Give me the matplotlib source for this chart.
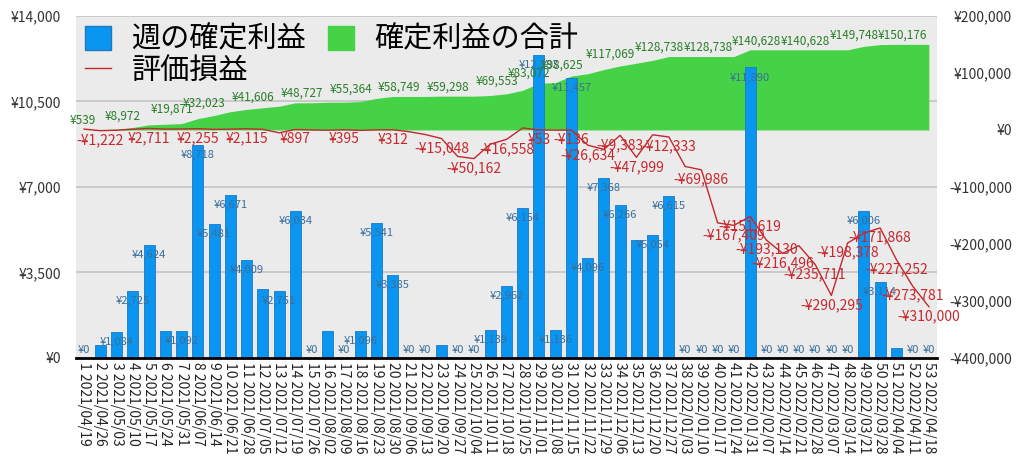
import matplotlib
matplotlib.use('Agg')
import matplotlib.pyplot as plt
from matplotlib.patches import Patch
from matplotlib.lines import Line2D

plt.rcParams['font.family'] = ['Noto Sans CJK JP', 'DejaVu Sans']

# 週ラベル
dates = ['2021/04/19', '2021/04/26', '2021/05/03', '2021/05/10', '2021/05/17', '2021/05/24',
         '2021/05/31', '2021/06/07', '2021/06/14', '2021/06/21', '2021/06/28', '2021/07/05',
         '2021/07/12', '2021/07/19', '2021/07/26', '2021/08/02', '2021/08/09', '2021/08/16',
         '2021/08/23', '2021/08/30', '2021/09/06', '2021/09/13', '2021/09/20', '2021/09/27',
         '2021/10/04', '2021/10/11', '2021/10/18', '2021/10/25', '2021/11/01', '2021/11/08',
         '2021/11/15', '2021/11/22', '2021/11/29', '2021/12/06', '2021/12/13', '2021/12/20',
         '2021/12/27', '2022/01/03', '2022/01/10', '2022/01/17', '2022/01/24', '2022/01/31',
         '2022/02/07', '2022/02/14', '2022/02/21', '2022/02/28', '2022/03/07', '2022/03/14',
         '2022/03/21', '2022/03/28', '2022/04/04', '2022/04/11', '2022/04/18']

# 週の確定利益
weekly = [0, 539, 1084, 2725, 4624, 1089, 1092, 8718, 5481, 6671, 4009, 2823, 2751, 6034,
          0, 1087, 0, 1096, 5541, 3385, 0, 0, 549, 0, 0, 1139, 2962, 6154, 12383, 1136,
          11457, 4096, 7368, 6266, 4810, 5054, 6615, 0, 0, 0, 0, 11890, 0, 0, 0, 0, 0, 0,
          6006, 3114, 428, 0, 0]

# 確定利益の合計
total = [0, 539, 1623, 4348, 8972, 10061, 11153, 19871, 25352, 32023, 36032, 38855, 41606,
         47640, 47640, 48727, 48727, 49823, 55364, 58749, 58749, 58749, 59298, 59298, 59298,
         60437, 63399, 69553, 81936, 83072, 94529, 98625, 105993, 112259, 117069, 122123,
         128738, 128738, 128738, 128738, 128738, 140628, 140628, 140628, 140628, 140628,
         140628, 140628, 146634, 149748, 150176, 150176, 150176]

# 評価損益
unrealized = [1500, -1222, -500, 1200, 2711, 1500, 1800, 2255, 1000, 1500, 2115, 1200, -5000,
              897, 0, -500, 395, -800, 200, 312, -3000, -8000, -15048, -46500, -50162, -25000,
              -16558, 3500, 53, -300, -136, -26634, -34000, -9383, -47999, -8500, -12333,
              -64000, -69986, -163000, -167409, -151619, -193130, -216496, -203000, -235711,
              -290295, -198378, -181000, -171868, -227252, -273781, -310000]

# 表示するラベル (週番号)
bar_label_weeks = [w for w in range(1, 54) if w not in (2, 6, 12, 16, 23, 35, 51)]
total_label_weeks = [2, 5, 8, 10, 13, 16, 19, 22, 25, 28, 30, 32, 35, 38, 41, 44, 47, 50, 53]
unreal_label_weeks = [2, 5, 8, 11, 14, 17, 20, 23, 25, 27, 29, 31, 32, 34, 35, 37, 39, 41,
                      42, 43, 44, 46, 47, 48, 50, 51, 52, 53]


def yen(v):
    if v < 0:
        return '-¥{:,}'.format(int(-v))
    return '¥{:,}'.format(int(v))


x = list(range(len(weekly)))
xticklabels = ['%d %s' % (i + 1, d) for i, d in enumerate(dates)]

fig = plt.figure(figsize=(10.24, 4.69), dpi=100)
rect = [0.0742, 0.2367, 0.8408, 0.7293]

ax_r = fig.add_axes(rect)       # 右軸 (面グラフ)
ax_b = ax_r.twinx()             # 左軸 (棒グラフ)
ax_t = ax_r.twinx()             # 右軸 (折れ線・ラベル)

for a in (ax_r, ax_b, ax_t):
    for s in a.spines.values():
        s.set_visible(False)
    a.set_xlim(-0.5, len(weekly) - 0.5)

ax_r.set_facecolor('#ebebeb')
ax_r.set_ylim(-400000, 200000)
ax_t.set_ylim(-400000, 200000)
ax_b.set_ylim(0, 14000)

# グリッド (左軸の目盛り位置)
for g in [-250000, -100000, 50000, 200000]:
    ax_r.axhline(g, color='#c4c4c4', lw=1.2, zorder=0)

ax_r.fill_between(x, 0, total, color='#46d246', lw=0, zorder=1)

ax_b.bar(x, weekly, width=0.68, color='#0a96f0', edgecolor='#1f78c0', lw=0.6)
for w in bar_label_weeks:
    v = weekly[w - 1]
    ax_b.text(w - 1, max(v - 410, 330), yen(v), ha='center', va='center',
              fontsize=8, color='#3b6d9c')

ax_t.plot(x, unrealized, color='#c3282d', lw=1)
for w in unreal_label_weeks:
    v = unrealized[w - 1]
    ax_t.annotate(yen(v), (w - 1, v), xytext=(0, -7), textcoords='offset points',
                  ha='center', va='center', fontsize=10, color='#c8282d')
for w in total_label_weeks:
    v = total[w - 1]
    ax_t.annotate(yen(v), (max(w - 2.6, -0.1), v), xytext=(0, 6.5),
                  textcoords='offset points', ha='center', va='center',
                  fontsize=8.5, color='#2a7d2a', annotation_clip=False)

# 目盛り
ax_r.yaxis.tick_right()
ax_r.set_yticks(range(-400000, 200001, 100000))
ax_r.set_yticklabels([yen(v) for v in range(-400000, 200001, 100000)])
ax_r.tick_params(axis='y', length=0, pad=54, labelsize=10, labelcolor='#333333')
for lab in ax_r.get_yticklabels():
    lab.set_horizontalalignment('right')

ax_b.yaxis.tick_left()
ax_b.set_yticks(range(0, 14001, 3500))
ax_b.set_yticklabels([yen(v) for v in range(0, 14001, 3500)])
ax_b.tick_params(axis='y', length=0, pad=11, labelsize=10, labelcolor='#333333')

ax_t.set_yticks([])
ax_b.set_xticks([])
ax_t.set_xticks([])
ax_r.set_xticks(x)
ax_r.set_xticklabels(xticklabels, rotation=270, fontsize=10, color='#222222')
ax_r.tick_params(axis='x', length=0, pad=3)

ax_t.spines['bottom'].set_visible(True)
ax_t.spines['bottom'].set_color('black')
ax_t.spines['bottom'].set_linewidth(2)

handles = [Patch(facecolor='#0a96f0', edgecolor='#1f78c0'),
           Line2D([0], [0], color='#c3282d', lw=1),
           Patch(facecolor='#46d246', edgecolor='#46d246')]
labels = ['週の確定利益', '評価損益', '確定利益の合計']
ax_t.legend(handles, labels, loc='upper left', bbox_to_anchor=(0.0, 1.0), ncol=2,
            frameon=False, fontsize=21, handlelength=0.9, handleheight=0.9,
            handletextpad=0.7, columnspacing=0.75, labelspacing=0.05,
            borderpad=0.2, borderaxespad=0.1)

fig.savefig('out.png', dpi=100)
